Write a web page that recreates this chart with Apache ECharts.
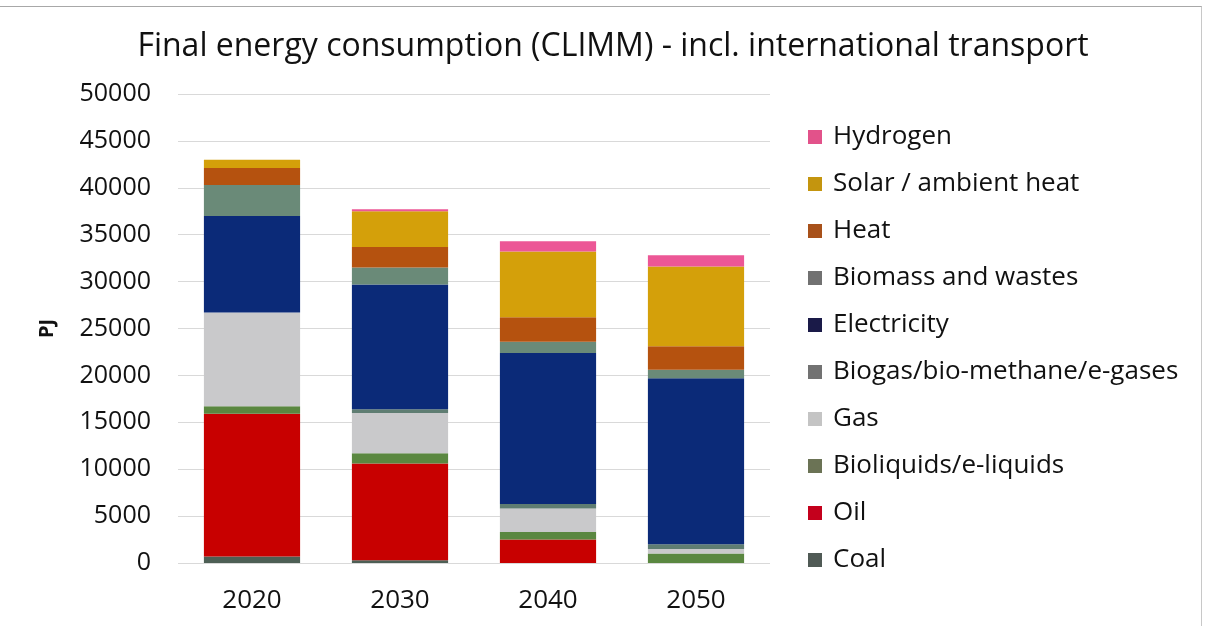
<!doctype html>
<html lang="en">
  <head>
    <meta charset="UTF-8" />
    <title>Final energy consumption</title>
    <style>
      html, body { margin: 0; padding: 0; background: #fff; }
      .wrap { position: relative; width: 1205px; height: 626px; }
      .frame { position: absolute; left: 0; top: 6px; width: 1201px; height: 620px; border-top: 1px solid #a8a8a8; border-right: 1px solid #c8c8c8; pointer-events: none; }
    </style>
  </head>
  <body>
    <div class="wrap">
      <div id="chart1" style="width: 1205px; height: 626px"></div>
      <div class="frame"></div>
    </div>
    <script src="https://cdn.jsdelivr.net/npm/echarts@6/dist/echarts.min.js"></script>
    <script>
      // years on the x axis
      const years = ["2020", "2030", "2040", "2050"];

      // PJ per carrier, stacked bottom to top
      const coal = [700, 300, 0, 0];
      const oil = [15200, 10300, 2500, 0];
      const bioliquids = [800, 1100, 800, 1000];
      const gas = [10000, 4300, 2500, 500];
      const biogas = [0, 400, 500, 500];
      const electricity = [10300, 13300, 16100, 17700];
      const biomass = [3300, 1800, 1200, 900];
      const heat = [1800, 2200, 2600, 2500];
      const solar = [900, 3800, 7000, 8500];
      const hydrogen = [0, 200, 1100, 1200];

      const yTicks = [0, 5000, 10000, 15000, 20000, 25000, 30000, 35000, 40000, 45000, 50000];

      const layers = [
        ["Coal", coal, "#4d5f55"],
        ["Oil", oil, "#c80000"],
        ["Bioliquids/e-liquids", bioliquids, "#5a8740"],
        ["Gas", gas, "#c9c9cb"],
        ["Biogas/bio-methane/e-gases", biogas, "#5f7d72"],
        ["Electricity", electricity, "#0b2a78"],
        ["Biomass and wastes", biomass, "#6a8a78"],
        ["Heat", heat, "#b5520f"],
        ["Solar / ambient heat", solar, "#d4a00a"],
        ["Hydrogen", hydrogen, "#ec5796"],
      ];

      // the legend swatches are drawn a bit greyer than the bars
      const legendColors = {
        "Hydrogen": "#e2528a",
        "Solar / ambient heat": "#c4950e",
        "Heat": "#a8511a",
        "Biomass and wastes": "#717171",
        "Biogas/bio-methane/e-gases": "#727272",
        "Electricity": "#1a1a48",
        "Gas": "#c4c4c4",
        "Bioliquids/e-liquids": "#6b7355",
        "Oil": "#c4001c",
        "Coal": "#505a55",
      };

      const myChart = echarts.init(document.querySelector("#chart1"));

      const option = {
        animation: false,
        textStyle: { fontFamily: "Open Sans" },
        title: {
          text: "Final energy consumption (CLIMM) - incl. international transport",
          left: 608,
          textAlign: "center",
          top: 26,
          textStyle: { fontFamily: "Open Sans", fontWeight: "normal", fontSize: 32, color: "#111" },
        },
        legend: {
          orient: "vertical",
          left: 808,
          top: 124,
          padding: 0,
          itemWidth: 14,
          itemHeight: 14,
          itemGap: 21,
          icon: "rect",
          data: layers.slice().reverse().map((l) => ({
            name: l[0],
            itemStyle: { color: legendColors[l[0]] },
          })),
          textStyle: { fontSize: 26, color: "#111", lineHeight: 26, padding: [0, 0, 0, 6] },
        },
        grid: { left: 178, right: 435, top: 94, bottom: 63 },
        xAxis: {
          type: "category",
          data: years,
          axisLine: { show: false },
          axisTick: { show: false },
          axisLabel: { fontSize: 26, color: "#111", margin: 25 },
        },
        yAxis: {
          type: "value",
          min: yTicks[0],
          max: yTicks[yTicks.length - 1],
          interval: 5000,
          name: "PJ",
          nameLocation: "middle",
          nameGap: 121,
          nameTextStyle: { fontSize: 20, fontWeight: "bold", color: "#111" },
          axisLabel: { fontSize: 25, color: "#111", margin: 27, formatter: (v) => String(v) },
          splitLine: { lineStyle: { color: "#d9d9d9", width: 1 } },
        },
        series: layers.map((l) => ({
          name: l[0],
          type: "bar",
          stack: "total",
          barWidth: "65%",
          data: l[1],
          itemStyle: { color: l[2] },
        })),
      };

      myChart.setOption(option);
    </script>
  </body>
</html>
